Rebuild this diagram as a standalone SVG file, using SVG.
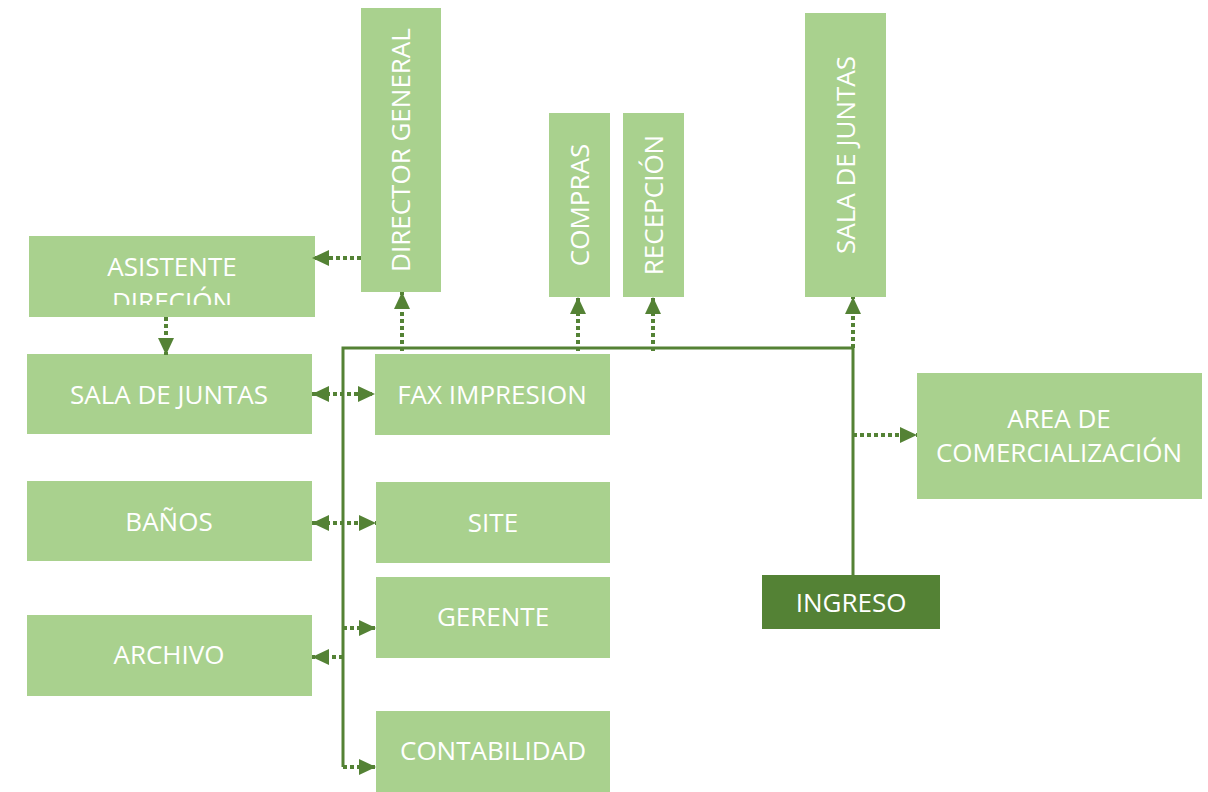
<svg xmlns="http://www.w3.org/2000/svg" width="1208" height="792" viewBox="0 0 1208 792">
  <style>
    .box { fill: #A9D18E; }
    .box-dark { fill: #548235; }
    .label { font-family: "Open Sans", "Liberation Sans", sans-serif; font-size: 26px; fill: #FFFFFF; text-anchor: middle; }
    .trunk { fill: none; stroke: #548235; stroke-width: 3; }
    .link { fill: none; stroke: #548235; stroke-width: 4; stroke-dasharray: 4 3; }
  </style>
  <defs>
    <marker id="arrow" markerUnits="userSpaceOnUse" markerWidth="17" markerHeight="16" refX="17" refY="8" orient="auto-start-reverse">
      <path d="M0,0 L17,8 L0,16 z" fill="#548235"/>
    </marker>
    <clipPath id="clip-asistente">
      <rect x="29" y="236" width="286" height="69"/>
    </clipPath>
  </defs>
  <rect width="1208" height="792" fill="#FFFFFF"/>

  <!-- Nodes -->
  <g id="director-general">
    <rect class="box" x="361" y="8" width="80" height="284"/>
    <text class="label" transform="translate(401,150) rotate(-90)" dy="9">DIRECTOR GENERAL</text>
  </g>
  <g id="compras">
    <rect class="box" x="549" y="113" width="61" height="184"/>
    <text class="label" transform="translate(580,205) rotate(-90)" dy="9">COMPRAS</text>
  </g>
  <g id="recepcion">
    <rect class="box" x="623" y="113" width="61" height="184"/>
    <text class="label" transform="translate(653.5,205) rotate(-90)" dy="9">RECEPCIÓN</text>
  </g>
  <g id="sala-juntas-norte">
    <rect class="box" x="805" y="13" width="81" height="284"/>
    <text class="label" transform="translate(845.5,155) rotate(-90)" dy="9">SALA DE JUNTAS</text>
  </g>
  <g id="asistente-direccion">
    <rect class="box" x="29" y="236" width="286" height="81"/>
    <g clip-path="url(#clip-asistente)">
      <text class="label" x="172" y="276">ASISTENTE</text>
      <text class="label" x="172" y="311">DIRECIÓN</text>
    </g>
  </g>
  <g id="sala-juntas">
    <rect class="box" x="27" y="354" width="285" height="80"/>
    <text class="label" x="169" y="395" dy="9">SALA DE JUNTAS</text>
  </g>
  <g id="fax-impresion">
    <rect class="box" x="375" y="354" width="235" height="81"/>
    <text class="label" x="492" y="395" dy="9">FAX IMPRESION</text>
  </g>
  <g id="banos">
    <rect class="box" x="27" y="481" width="285" height="80"/>
    <text class="label" x="169" y="522" dy="9">BAÑOS</text>
  </g>
  <g id="site">
    <rect class="box" x="376" y="482" width="234" height="81"/>
    <text class="label" x="493" y="523" dy="9">SITE</text>
  </g>
  <g id="gerente">
    <rect class="box" x="376" y="577" width="234" height="81"/>
    <text class="label" x="493" y="617" dy="9">GERENTE</text>
  </g>
  <g id="archivo">
    <rect class="box" x="27" y="615" width="285" height="81"/>
    <text class="label" x="169" y="655" dy="9">ARCHIVO</text>
  </g>
  <g id="contabilidad">
    <rect class="box" x="376" y="711" width="234" height="81"/>
    <text class="label" x="493" y="751" dy="9">CONTABILIDAD</text>
  </g>
  <g id="area-comercializacion">
    <rect class="box" x="917" y="373" width="285" height="126"/>
    <text class="label" x="1059" y="419" dy="9">AREA DE</text>
    <text class="label" x="1059" y="453" dy="9">COMERCIALIZACIÓN</text>
  </g>
  <g id="ingreso">
    <rect class="box-dark" x="762" y="575" width="178" height="54"/>
    <text class="label" x="851" y="603" dy="9">INGRESO</text>
  </g>

  <!-- Connectors -->
  <g id="connectors">
    <!-- main corridor from the entrance -->
    <path class="trunk" d="M853,575 V348 H343 V767"/>
    <!-- dotted links -->
    <line class="link" x1="361" y1="258" x2="312" y2="258" marker-end="url(#arrow)"/>
    <line class="link" x1="166" y1="317" x2="166" y2="355" marker-end="url(#arrow)"/>
    <line class="link" x1="402" y1="351" x2="402" y2="292" marker-end="url(#arrow)"/>
    <line class="link" x1="578" y1="351" x2="578" y2="297" marker-end="url(#arrow)"/>
    <line class="link" x1="653" y1="351" x2="653" y2="297" marker-end="url(#arrow)"/>
    <line class="link" x1="853" y1="348" x2="853" y2="297" marker-end="url(#arrow)"/>
    <line class="link" x1="312" y1="394" x2="375" y2="394" marker-start="url(#arrow)" marker-end="url(#arrow)"/>
    <line class="link" x1="312" y1="523" x2="376" y2="523" marker-start="url(#arrow)" marker-end="url(#arrow)"/>
    <line class="link" x1="343" y1="628" x2="376" y2="628" marker-end="url(#arrow)"/>
    <line class="link" x1="343" y1="657" x2="312" y2="657" marker-end="url(#arrow)"/>
    <line class="link" x1="343" y1="767" x2="376" y2="767" marker-end="url(#arrow)"/>
    <line class="link" x1="853" y1="435" x2="917" y2="435" marker-end="url(#arrow)"/>
  </g>
</svg>
